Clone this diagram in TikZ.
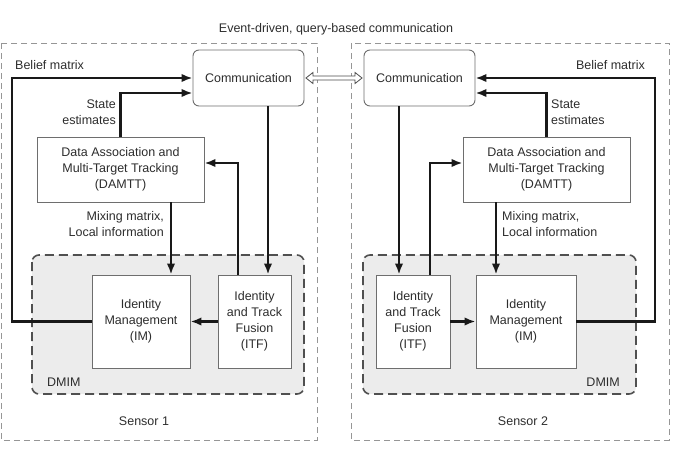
\documentclass[tikz,border=0pt]{standalone}
\usepackage{fontspec}
\setmainfont{Liberation Sans}
\usetikzlibrary{arrows.meta,positioning,calc}
\definecolor{txt}{RGB}{45,45,45}
\definecolor{boxline}{RGB}{110,110,110}
\definecolor{dmimfill}{RGB}{236,236,236}
\definecolor{dmimline}{RGB}{80,80,80}
\definecolor{sensline}{RGB}{150,150,150}
\begin{document}
\begin{tikzpicture}[x=1pt,y=-1pt,
  every node/.style={font=\fontsize{12.5}{16}\selectfont, text=txt},
  blk/.style={draw=boxline, line width=0.9pt, fill=white, inner sep=0pt, align=center},
  commbox/.style={blk, rounded corners=6pt, minimum width=111pt, minimum height=56pt},
  sensor/.style={draw=sensline, line width=0.8pt, dash pattern=on 6pt off 4pt},
  dmim/.style={draw=dmimline, fill=dmimfill, line width=1.6pt, dash pattern=on 9pt off 5pt, rounded corners=7pt},
  flow/.style={line width=2.3pt, draw=black!90, -{Latex[length=11pt,width=8.5pt]}},
  hollow/.style={draw=black!70, line width=0.8pt, fill=white},
  lbl/.style={inner sep=0pt}
]
\useasboundingbox (0,0) rectangle (678,450);
% sensor boxes
\draw[sensor] (1,43) rectangle (317,440);
\draw[sensor] (351,43) rectangle (669,440);
% DMIM regions
\draw[dmim] (32,255) rectangle (304,394);
\draw[dmim] (363,255) rectangle (636,394);

% title
\node (title) at (336,29) {Event-driven, query-based communication};

% ---------- Sensor 1 ----------
\node[commbox] (comm1) at (248.5,78) {Communication};
\node[blk, minimum width=167pt, minimum height=65pt] (damtt1) at (120.5,169.5) {Data Association and\\Multi-Target Tracking\\(DAMTT)};
\node[blk, minimum width=98pt, minimum height=93pt] (im1) at (141,321.5) {Identity\\Management\\(IM)};
\node[blk, minimum width=73pt, minimum height=93pt] (itf1) at (254.5,321.5) {Identity\\and Track\\Fusion\\(ITF)};

\coordinate (b1a) at (12,321.5);
\coordinate (b1b) at (12,78);
\draw[flow] (im1.west) -- (b1a) -- (b1b) -- (comm1.west);
\coordinate (s1a) at (120.5,93);
\draw[flow] (damtt1.north) -- (s1a) -- (comm1.west |- s1a);
\draw[flow] (comm1.south -| 268,0) -- (itf1.north -| 268,0);
\coordinate (f1a) at (238,163);
\draw[flow] (itf1.north -| f1a) -- (f1a) -- (damtt1.east |- f1a);
\draw[flow] (damtt1.south -| 171,0) -- (im1.north -| 171,0);
\draw[flow] (itf1.west) -- (im1.east);

\node[lbl, anchor=west] (bl1) at (15,65) {Belief matrix};
\node[lbl, anchor=east, align=right] (se1) at (116,112) {State\\estimates};
\node[lbl, anchor=east, align=right] (mx1) at (164,224) {Mixing matrix,\\Local information};
\node[lbl, anchor=west] (dm1) at (47,382) {DMIM};
\node (sn1) at (144,421) {Sensor 1};

% ---------- Sensor 2 ----------
\node[commbox] (comm2) at (419.5,78) {Communication};
\node[blk, minimum width=167pt, minimum height=65pt] (damtt2) at (546.5,169.5) {Data Association and\\Multi-Target Tracking\\(DAMTT)};
\node[blk, minimum width=100pt, minimum height=93pt] (im2) at (526,321.5) {Identity\\Management\\(IM)};
\node[blk, minimum width=74pt, minimum height=93pt] (itf2) at (413,321.5) {Identity\\and Track\\Fusion\\(ITF)};

\coordinate (b2a) at (655,321.5);
\coordinate (b2b) at (655,78);
\draw[flow] (im2.east) -- (b2a) -- (b2b) -- (comm2.east);
\coordinate (s2a) at (546.5,93);
\draw[flow] (damtt2.north) -- (s2a) -- (comm2.east |- s2a);
\draw[flow] (comm2.south -| 399,0) -- (itf2.north -| 399,0);
\coordinate (f2a) at (430,163);
\draw[flow] (itf2.north -| f2a) -- (f2a) -- (damtt2.west |- f2a);
\draw[flow] (damtt2.south -| 496,0) -- (im2.north -| 496,0);
\draw[flow] (itf2.east) -- (im2.west);

\node[lbl, anchor=east] (bl2) at (645,65) {Belief matrix};
\node[lbl, anchor=west, align=left] (se2) at (551,112) {State\\estimates};
\node[lbl, anchor=west, align=left] (mx2) at (502,224) {Mixing matrix,\\Local information};
\node[lbl, anchor=east] (dm2) at (620,382) {DMIM};
\node (sn2) at (523,421) {Sensor 2};

% communication link (hollow double arrow)
\coordinate (cl) at ($(comm1.east)+(1.5,0)$);
\coordinate (cr) at ($(comm2.west)+(-1.5,0)$);
\draw[hollow] (cl) -- ($(cl)+(7,-5.5)$) -- ($(cl)+(7,-2)$) -- ($(cr)+(-7,-2)$) -- ($(cr)+(-7,-5.5)$) -- (cr)
  -- ($(cr)+(-7,5.5)$) -- ($(cr)+(-7,2)$) -- ($(cl)+(7,2)$) -- ($(cl)+(7,5.5)$) -- cycle;
\end{tikzpicture}
\end{document}
